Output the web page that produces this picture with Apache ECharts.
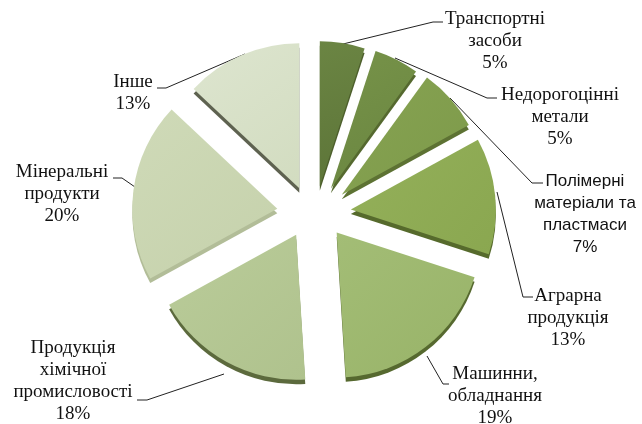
<!DOCTYPE html>
<html><head><meta charset="utf-8">
<style>html,body{margin:0;padding:0;background:#fff}#c{width:642px;height:424px}</style>
<script src="https://cdn.jsdelivr.net/npm/echarts@6/dist/echarts.min.js"></script>
</head><body><div id="c"></div>
<script>
const categories = ['Транспортні\nзасоби','Недорогоцінні\nметали','Полімерні\nматеріали та\nпластмаси','Аграрна\nпродукція','Машинни,\nобладнання','Продукція\nхімічної\nпромисловості','Мінеральні\nпродукти','Інше'];
const values = [5,5,7,13,19,18,20,13];
const topLight = ['#6b8543','#779349','#87a352','#94b05a','#a3bd76','#bacc9a','#cfdab8','#dde5cf'];
const topDark  = ['#5c7438','#698540','#7d9a4a','#8aa750','#98b368','#afc28d','#c5d1ab','#d2dcc0'];
const sideColors = ['#4d5f2c','#55692f','#5d7233','#566a2c','#56692f','#5c6a3d','#b2bd98','#5e6250'];
const labelBoxes = [[495,8],[560,84],[585,170],[568,285],[495,363],[73,337],[62,161],[133,71]];
const leaders = [
 [[343,44],[433,22],[443,22]],
 [[395,58],[487,98],[497,98]],
 [[450,98],[532,183],[543,183]],
 [[497,192],[523,297],[533,297]],
 [[427,356],[443,384],[449,384]],
 [[224,374],[147,400],[137,400]],
 [[135,187],[122,178],[113,178]],
 [[245,54],[166,88],[157,88]]
];
const pieCenter = [314,212], depth = 4.5, radius = 145, gapX = 37, gapY = 26;
const total = values.reduce((a,b)=>a+b,0);
let running = 0;
const midAngles = values.map(v=>{const m=(running+v/2)/total*2*Math.PI;running+=v;return m;});
const hidden = {color:'rgba(0,0,0,0)'};
const chart = echarts.init(document.getElementById('c'), null, {renderer:'canvas'});
const serif = '"Liberation Serif","Times New Roman",serif', sans = '"Liberation Sans",Arial,sans-serif';
const slice = (i,extraY,isTop)=>({
  type:'pie',silent:true,radius:radius,startAngle:90,clockwise:true,emphasis:{disabled:true},
  center:[pieCenter[0]+gapX*Math.sin(midAngles[i]),pieCenter[1]-gapY*Math.cos(midAngles[i])+extraY],
  label:{show:false},labelLine:{show:false},
  labelLayout:isTop?function(p){const b=labelBoxes[i];return {x:b[0],y:b[1],align:'center',verticalAlign:'top',labelLinePoints:leaders[i]};}:undefined,
  data:values.map((v,j)=>{
    if(j!==i) return {value:v,name:categories[j],itemStyle:hidden};
    const d={value:v,name:categories[j]};
    if(isTop){
      d.itemStyle={color:new echarts.graphic.LinearGradient(0,0,1,1,[{offset:0,color:topLight[i]},{offset:1,color:topDark[i]}])};
      d.label={show:true,position:'outside',formatter:'{b}\n{d}%',overflow:'none',fontFamily:i===2?sans:serif,fontSize:i===2?17:19,lineHeight:22,color:'#111',align:'center'};
      d.labelLine={show:true,lineStyle:{color:'#222',width:1}};
    } else d.itemStyle={color:sideColors[i]};
    return d;
  })
});
chart.setOption({
  animation:false,
  backgroundColor:'#fff',
  series:[...values.map((v,i)=>slice(i,depth,false)),...values.map((v,i)=>slice(i,0,true))]
});
</script></body></html>
